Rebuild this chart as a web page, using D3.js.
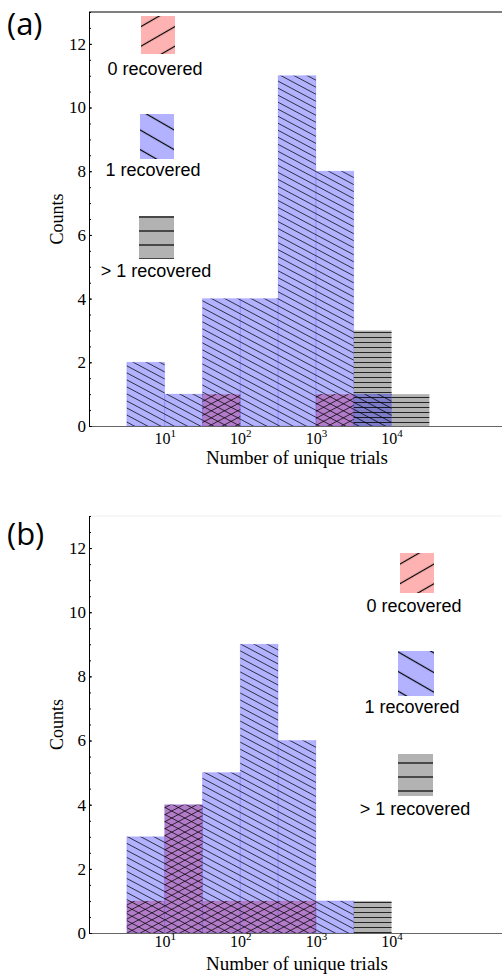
<!DOCTYPE html>
<html>
<head>
    <title>Unique trials histograms</title>
    <style>
        body { margin: 0; background: #fff; }
        svg text.serif { font-family: "Liberation Serif", "Times New Roman", serif; }
        svg text.sans { font-family: "Liberation Sans", Arial, sans-serif; }
        .panel-label { font-family: "Open Sans", "DejaVu Sans", sans-serif; font-size: 31px; }
    </style>
    <script src="https://d3js.org/d3.v7.min.js"></script>
</head>
<body>
<div id="chart"></div>
<script>
    // bin edges, as log10 of the number of unique trials
    var binExp = [0.5, 1, 1.5, 2, 2.5, 3, 3.5, 4, 4.5];
    var xTickValues = [10, 100, 1000, 10000];
    var yTickValues = [0, 2, 4, 6, 8, 10, 12];
    var seriesNames = ["0 recovered", "1 recovered", "> 1 recovered"];

    // panel (a)
    var zeroA = [0, 0, 1, 0, 0, 1, 0, 0];
    var oneA  = [2, 1, 4, 4, 11, 8, 1, 0];
    var manyA = [0, 0, 0, 0, 0, 0, 3, 1];

    // panel (b)
    var zeroB = [1, 4, 1, 1, 1, 0, 0, 0];
    var oneB  = [3, 4, 5, 9, 6, 1, 0, 0];
    var manyB = [0, 0, 0, 0, 0, 0, 1, 0];

    var width = 502, height = 974;
    var svg = d3.select("#chart").append("svg")
        .attr("width", width)
        .attr("height", height);

    var defs = svg.append("defs");
    function hatch(id, angle, spacing, lw) {
        defs.append("pattern")
            .attr("id", id)
            .attr("patternUnits", "userSpaceOnUse")
            .attr("width", 20)
            .attr("height", spacing)
            .attr("patternTransform", "rotate(" + angle + ")")
            .append("line")
            .attr("x1", -1).attr("x2", 21)
            .attr("y1", spacing / 2).attr("y2", spacing / 2)
            .attr("stroke", "#000")
            .attr("stroke-width", lw);
    }
    hatch("h-zero", -28, 6.2, 0.7);
    hatch("h-one", 28, 6.2, 0.7);
    hatch("h-many", 0, 5, 0.8);
    hatch("l-zero", -30, 17, 1.2);
    hatch("l-one", 30, 17, 1.2);
    hatch("l-many", 0, 14, 1.2);

    var fills = ["rgba(255,0,0,0.3)", "rgba(0,0,255,0.3)", "rgba(0,0,0,0.3)"];
    var hatchIds = ["zero", "one", "many"];

    var x = d3.scaleLog().domain([1, Math.pow(10, 5.5)]).range([89, 505]);

    var panels = [
        { label: "(a)", labelY: 35, y0: 426, y1: 12, data: [zeroA, oneA, manyA],
          frame: "#000", tickY: 444, titleY: 464,
          legend: [ { x: 141, y: 16, w: 34, h: 38, ty: 75, tx: 155 },
                    { x: 140, y: 114, w: 34, h: 45, ty: 176, tx: 153 },
                    { x: 139, y: 216, w: 35, h: 43, ty: 277, tx: 156 } ] },
        { label: "(b)", labelY: 545, y0: 933, y1: 516, data: [zeroB, oneB, manyB],
          frame: "#eee", tickY: 947, titleY: 970,
          legend: [ { x: 400, y: 553, w: 34, h: 40, ty: 612, tx: 414 },
                    { x: 398, y: 651, w: 36, h: 45, ty: 713, tx: 412 },
                    { x: 398, y: 754, w: 35, h: 42, ty: 815, tx: 415 } ] }
    ];

    panels.forEach(function(p) {
        var y = d3.scaleLinear().domain([0, 13]).range([p.y0, p.y1]);
        var g = svg.append("g");

        var bins = binExp.slice(0, -1).map(function(e, i) { return { lo: e, hi: binExp[i + 1], i: i }; });

        // fills: red first, then gray, then blue on top
        var order = [0, 2, 1];
        order.forEach(function(s) {
            g.selectAll(null)
                .data(bins.filter(function(b) { return p.data[s][b.i] > 0; }))
                .enter().append("rect")
                .attr("x", function(b) { return x(Math.pow(10, b.lo)); })
                .attr("width", function(b) { return x(Math.pow(10, b.hi)) - x(Math.pow(10, b.lo)); })
                .attr("y", function(b) { return y(p.data[s][b.i]); })
                .attr("height", function(b) { return y(0) - y(p.data[s][b.i]); })
                .attr("fill", fills[s])
                .attr("stroke", s === 1 ? "rgba(0,0,255,0.12)" : "none")
                .attr("stroke-width", 1);
        });
        order.forEach(function(s) {
            g.selectAll(null)
                .data(bins.filter(function(b) { return p.data[s][b.i] > 0; }))
                .enter().append("rect")
                .attr("x", function(b) { return x(Math.pow(10, b.lo)); })
                .attr("width", function(b) { return x(Math.pow(10, b.hi)) - x(Math.pow(10, b.lo)); })
                .attr("y", function(b) { return y(p.data[s][b.i]); })
                .attr("height", function(b) { return y(0) - y(p.data[s][b.i]); })
                .attr("fill", "url(#h-" + hatchIds[s] + ")");
        });

        // frame top
        g.append("line")
            .attr("x1", 89).attr("x2", width)
            .attr("y1", y(13)).attr("y2", y(13))
            .attr("stroke", p.frame).attr("stroke-width", 1);

        // x axis
        var gx = g.append("g")
            .attr("transform", "translate(0," + y(0) + ")")
            .call(d3.axisBottom(x).tickValues(xTickValues).tickSize(0).tickPadding(0));
        gx.select(".domain").attr("stroke", "#666");
        gx.selectAll(".tick text")
            .attr("class", "serif")
            .attr("font-size", 16)
            .attr("fill", "#000")
            .attr("y", p.tickY - y(0))
            .attr("dy", 0)
            .each(function(d) {
                var t = d3.select(this);
                t.text(null);
                t.append("tspan").text("10");
                t.append("tspan").attr("dy", -7).attr("font-size", 11).text(Math.round(Math.log10(d)));
            });

        // y axis, minor then major
        var gyMinor = g.append("g")
            .attr("transform", "translate(89,0)")
            .call(d3.axisLeft(y).tickValues(d3.range(0, 13.01, 0.5)).tickSizeInner(-2).tickSizeOuter(0).tickFormat(""));
        gyMinor.select(".domain").remove();
        var gy = g.append("g")
            .attr("transform", "translate(89,0)")
            .call(d3.axisLeft(y).tickValues(yTickValues).tickSizeInner(-3).tickSizeOuter(0).tickPadding(3));
        gy.select(".domain").attr("stroke", "#000");
        gy.selectAll(".tick text")
            .attr("class", "serif")
            .attr("font-size", 17)
            .attr("fill", "#000");

        // axis titles
        g.append("text")
            .attr("class", "serif")
            .attr("font-size", 19)
            .attr("text-anchor", "middle")
            .attr("x", 297).attr("y", p.titleY)
            .text("Number of unique trials");
        g.append("text")
            .attr("class", "serif")
            .attr("font-size", 18)
            .attr("text-anchor", "middle")
            .attr("transform", "translate(63," + ((y(0) + y(13)) / 2) + ") rotate(-90)")
            .text("Counts");

        // panel label
        g.append("text")
            .attr("class", "panel-label")
            .attr("x", 7).attr("y", p.labelY)
            .text(p.label);

        // legend
        p.legend.forEach(function(l, s) {
            g.append("rect")
                .attr("x", l.x).attr("y", l.y).attr("width", l.w).attr("height", l.h)
                .attr("fill", fills[s]);
            g.append("rect")
                .attr("x", l.x).attr("y", l.y).attr("width", l.w).attr("height", l.h)
                .attr("fill", "url(#l-" + hatchIds[s] + ")");
            g.append("text")
                .attr("class", "sans")
                .attr("font-size", 18)
                .attr("text-anchor", "middle")
                .attr("x", l.tx).attr("y", l.ty)
                .text(seriesNames[s]);
        });
    });
</script>
</body>
</html>
